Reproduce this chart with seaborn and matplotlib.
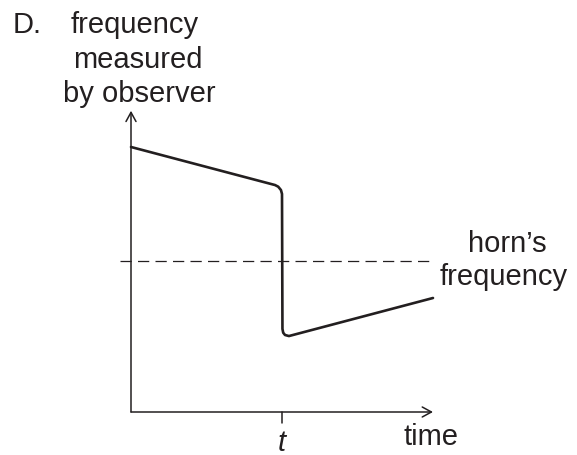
import matplotlib
matplotlib.use("Agg")
import matplotlib.pyplot as plt
import seaborn as sns
import pandas as pd

# Data (time in units of t, frequency in units of the horn's frequency)
time = [0.0, 0.954, 0.975, 0.993, 1.0, 1.003, 1.008, 1.02, 1.046, 2.0]
frequency = [1.755, 1.503, 1.492, 1.470, 1.444, 0.55, 0.525, 0.510, 0.503, 0.755]
horn_frequency = 1.0
t_mark = 1.0
axis_max = 2.0

sns.set_theme(style="white")
plt.rcParams['font.family'] = ['Liberation Sans', 'DejaVu Sans']

W, H = 577, 456
fig = plt.figure(figsize=(W / 100, H / 100), dpi=100)
ax = fig.add_axes([0, 0, 1, 1])
ax.set_axis_off()

# pixel mapping: origin (131, 413), 151 px per unit
ox, oy, s = 131, 413, 151
ax.set_xlim((0 - ox) / s, (W - ox) / s)
ax.set_ylim((oy - H) / s, (oy - 0) / s)

ink = '#231f20'
df = pd.DataFrame({'time': time, 'frequency': frequency})
sns.lineplot(data=df, x='time', y='frequency', sort=False, ax=ax,
             color=ink, lw=1.9, solid_joinstyle='round', solid_capstyle='round')

# horn's frequency dashed line
ax.plot([(120 - ox) / s, axis_max], [horn_frequency, horn_frequency],
        color=ink, lw=0.9, dashes=(9, 5))

# axes with open arrows
arrow = dict(arrowstyle='->,head_length=0.55,head_width=0.3', color=ink, lw=1.1,
             shrinkA=0, shrinkB=0)
ax.annotate('', xy=(axis_max, 0), xytext=(0, 0), arrowprops=arrow)
ax.annotate('', xy=(0, axis_max - 0.005), xytext=(0, 0), arrowprops=arrow)
# tick at t
ax.plot([t_mark, t_mark], [0, -0.07], color=ink, lw=1.1)

fs = 21

def px(x, y):
    return x / W, 1 - y / H

fig.text(*px(13, 33), 'D.', fontsize=fs, color=ink, ha='left', va='baseline')
fig.text(*px(135, 33), 'frequency', fontsize=fs, color=ink, ha='center', va='baseline')
fig.text(*px(138, 68), 'measured', fontsize=fs, color=ink, ha='center', va='baseline')
fig.text(*px(139, 102), 'by observer', fontsize=fs, color=ink, ha='center', va='baseline')
fig.text(*px(507, 252), 'horn\u2019s', fontsize=fs, color=ink, ha='center', va='baseline')
fig.text(*px(504, 285), 'frequency', fontsize=fs, color=ink, ha='center', va='baseline')
fig.text(*px(403, 445), 'time', fontsize=fs, color=ink, ha='left', va='baseline')
fig.text(*px(282, 451), 't', fontsize=fs, color=ink, ha='center', va='baseline', style='italic')

fig.savefig('out.png', dpi=100, facecolor='white')
